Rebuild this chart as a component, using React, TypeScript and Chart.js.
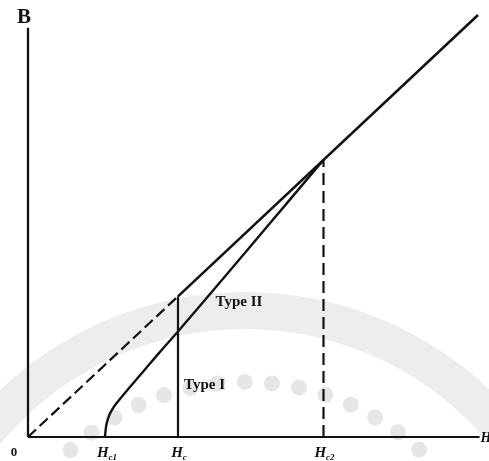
import { useEffect, useRef } from "react";
import { Chart, registerables } from "chart.js";

Chart.register(...registerables);

// Critical fields in reduced units (B = H in the normal state)
const H_C1 = 0.52;
const H_C = 1.0;
const H_C2 = 1.97;
const H_END = 3.0;

// Type II (mixed-state) induction curve between Hc1 and Hc2
const typeIIField = [0.513, 0.52, 0.537, 0.567, 0.613, 0.68, 0.78, 0.88, 1.0, 1.97];
const typeIIInduction = [0, 0.071, 0.142, 0.206, 0.27, 0.355, 0.48, 0.605, 0.75, 1.97];

// Axis extents
const X_AXIS_END = 3.01;
const Y_AXIS_END = 2.91;
const X_MAX = 3.02;
const Y_MAX = 3.0;

// Field markers along the H axis
const tickValues = [0, H_C1, H_C, H_C2];
const tickMain = ["0", "H", "H", "H"];
const tickSub = ["", "c1", "c", "c2"];

const INK = "#121212";
const SERIF = '"Liberation Serif", "DejaVu Serif", serif';

const pts = (xs: number[], ys: number[]) => xs.map((x, i) => ({ x, y: ys[i] }));

const lineSet = (data: { x: number; y: number }[], width: number, dash: number[] = [], smooth = false) => ({
  data,
  borderColor: INK,
  borderWidth: width,
  borderDash: dash,
  borderCapStyle: "butt" as const,
  pointRadius: 0,
  tension: smooth ? 0.4 : 0,
  cubicInterpolationMode: smooth ? ("monotone" as const) : ("default" as const),
  fill: false,
  clip: false as const,
});

// Faint printed backdrop: grey arc band and a row of dots
const backdrop = {
  id: "backdrop",
  beforeDatasetsDraw(chart: Chart) {
    const { ctx } = chart;
    ctx.save();
    ctx.fillStyle = "#ededed";
    ctx.beginPath();
    ctx.arc(245, 647, 355, Math.PI, 2 * Math.PI);
    ctx.arc(245, 647, 318, 2 * Math.PI, Math.PI, true);
    ctx.closePath();
    ctx.fill();
    ctx.fillStyle = "#e6e6e6";
    for (let a = -2.42; a <= -0.72; a += 0.106) {
      ctx.beginPath();
      ctx.arc(245 + 258 * Math.cos(a), 640 + 258 * Math.sin(a), 8, 0, 2 * Math.PI);
      ctx.fill();
    }
    ctx.restore();
  },
};

// Axis symbols, field markers and curve labels
const labels = {
  id: "labels",
  afterDatasetsDraw(chart: Chart) {
    const { ctx } = chart;
    const xs = chart.scales.x;
    const ys = chart.scales.y;
    const y0 = ys.getPixelForValue(0);
    ctx.save();
    ctx.fillStyle = INK;
    ctx.textBaseline = "alphabetic";

    tickValues.forEach((v, i) => {
      const px = xs.getPixelForValue(v);
      if (!tickSub[i]) {
        ctx.font = `bold 13px ${SERIF}`;
        const w = ctx.measureText(tickMain[i]).width;
        ctx.fillText(tickMain[i], px - 14 - w / 2, y0 + 19);
        return;
      }
      ctx.font = `italic bold 15px ${SERIF}`;
      const wm = ctx.measureText(tickMain[i]).width;
      ctx.font = `italic bold 9px ${SERIF}`;
      const ws = ctx.measureText(tickSub[i]).width;
      const left = px - (wm + ws) / 2 + 1;
      ctx.font = `italic bold 15px ${SERIF}`;
      ctx.fillText(tickMain[i], left, y0 + 20);
      ctx.font = `italic bold 9px ${SERIF}`;
      ctx.fillText(tickSub[i], left + wm, y0 + 23);
    });

    // Axis symbols
    ctx.font = `bold 21px ${SERIF}`;
    ctx.textAlign = "center";
    ctx.fillText("B", xs.getPixelForValue(0) - 4, ys.getPixelForValue(Y_AXIS_END) - 5);
    ctx.textAlign = "left";
    ctx.font = `italic bold 14px ${SERIF}`;
    ctx.fillText("H", xs.getPixelForValue(X_AXIS_END) + 1, y0 + 5);

    // Curve labels
    ctx.font = `bold 15px ${SERIF}`;
    ctx.fillText("Type II", xs.getPixelForValue(1.25), ys.getPixelForValue(0.93));
    ctx.fillText("Type I", xs.getPixelForValue(1.04), ys.getPixelForValue(0.34));
    ctx.restore();
  },
};

export default function App() {
  const canvasRef = useRef<HTMLCanvasElement>(null);

  useEffect(() => {
    const canvas = canvasRef.current;
    if (!canvas) return;
    const chart = new Chart(canvas, {
      type: "line",
      data: {
        datasets: [
          // H axis and B axis
          lineSet([{ x: 0, y: 0 }, { x: X_AXIS_END, y: 0 }], 2),
          lineSet([{ x: 0, y: 0 }, { x: 0, y: Y_AXIS_END }], 2.3),
          // Normal state B = H
          lineSet([{ x: H_C, y: H_C }, { x: H_END, y: H_END }], 2.6),
          // Extension of B = H below Hc
          lineSet([{ x: 0, y: 0 }, { x: H_C, y: H_C }], 2.2, [11, 5]),
          // Type I jump at Hc
          lineSet([{ x: H_C, y: 0 }, { x: H_C, y: H_C }], 2.2),
          // Type II mixed state
          lineSet(pts(typeIIField, typeIIInduction), 2.4, [], true),
          // Upper critical field marker
          lineSet([{ x: H_C2, y: 0 }, { x: H_C2, y: H_C2 }], 2.2, [12, 6]),
        ],
      },
      options: {
        animation: false,
        responsive: true,
        maintainAspectRatio: false,
        layout: { padding: { left: 28, right: 8, top: 15, bottom: 24 } },
        plugins: { legend: { display: false }, tooltip: { enabled: false } },
        scales: {
          x: { type: "linear", min: 0, max: X_MAX, display: false },
          y: { type: "linear", min: 0, max: Y_MAX, display: false },
        },
      },
      plugins: [backdrop, labels],
    });
    return () => chart.destroy();
  }, []);

  return (
    <div style={{ position: "fixed", left: 0, top: 0, width: "489px", height: "461px", background: "#fff" }}>
      <canvas ref={canvasRef} />
    </div>
  );
}
